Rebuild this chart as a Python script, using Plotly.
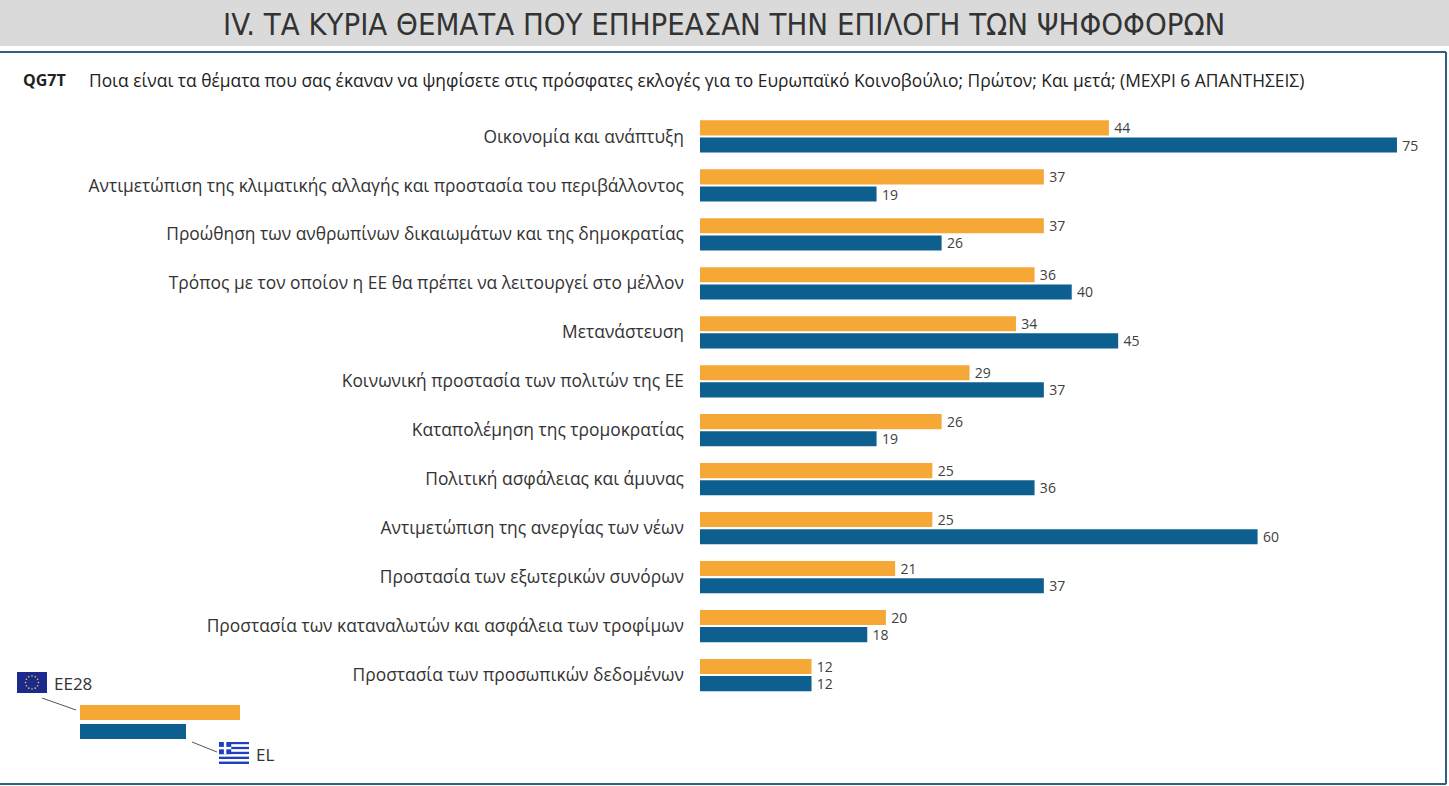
import math
import plotly.graph_objects as go

# data
topics = ['Οικονομία και ανάπτυξη',
          'Αντιμετώπιση της κλιματικής αλλαγής και προστασία του περιβάλλοντος',
          'Προώθηση των ανθρωπίνων δικαιωμάτων και της δημοκρατίας',
          'Τρόπος με τον οποίον η ΕΕ θα πρέπει να λειτουργεί στο μέλλον',
          'Μετανάστευση',
          'Κοινωνική προστασία των πολιτών της ΕΕ',
          'Καταπολέμηση της τρομοκρατίας',
          'Πολιτική ασφάλειας και άμυνας',
          'Αντιμετώπιση της ανεργίας των νέων',
          'Προστασία των εξωτερικών συνόρων',
          'Προστασία των καταναλωτών και ασφάλεια των τροφίμων',
          'Προστασία των προσωπικών δεδομένων']
ee28 = [44, 37, 37, 36, 34, 29, 26, 25, 25, 21, 20, 12]
el = [75, 19, 26, 40, 45, 37, 19, 36, 60, 37, 18, 12]

title_text = 'IV. ΤΑ ΚΥΡΙΑ ΘΕΜΑΤΑ ΠΟΥ ΕΠΗΡΕΑΣΑΝ ΤΗΝ ΕΠΙΛΟΓΗ ΤΩΝ ΨΗΦΟΦΟΡΩΝ'
question_code = 'QG7T'
question_text = ('Ποια είναι τα θέματα που σας έκαναν να ψηφίσετε στις πρόσφατες εκλογές '
                 'για το Ευρωπαϊκό Κοινοβούλιο; Πρώτον; Και μετά; (ΜΕΧΡΙ 6 ΑΠΑΝΤΗΣΕΙΣ)')

ORANGE = '#F5A835'
BLUE = '#0D5F8F'
FONT = 'Open Sans'
W, H = 1449, 786


def px(x):
    return x / W


def py(y):
    return 1 - y / H


fig = go.Figure()

# thin space in front of the value pushes it a little off the bar end
fig.add_trace(go.Bar(y=topics, x=ee28, orientation='h', name='EE28',
                     marker=dict(color=ORANGE, line=dict(width=0)),
                     texttemplate='\u2009%{x}', textposition='outside', cliponaxis=False,
                     constraintext='none', textfont=dict(size=14, color='#404040', family=FONT)))
fig.add_trace(go.Bar(y=topics, x=el, orientation='h', name='EL',
                     marker=dict(color=BLUE, line=dict(width=0)),
                     texttemplate='\u2009%{x}', textposition='outside', cliponaxis=False,
                     constraintext='none', textfont=dict(size=14, color='#404040', family=FONT)))

shapes = []
# title band and frame
shapes.append(dict(type='rect', xref='paper', yref='paper', x0=0, x1=1, y0=py(46), y1=1,
                   fillcolor='#DADADA', line=dict(width=0), layer='below'))
shapes.append(dict(type='line', xref='paper', yref='paper', x0=0, x1=px(1446), y0=py(52), y1=py(52),
                   line=dict(color='#2F607F', width=2)))
shapes.append(dict(type='line', xref='paper', yref='paper', x0=px(1446), x1=px(1446), y0=py(52), y1=py(784),
                   line=dict(color='#2F607F', width=2)))
shapes.append(dict(type='line', xref='paper', yref='paper', x0=0, x1=px(1446), y0=py(784), y1=py(784),
                   line=dict(color='#2F607F', width=2)))

# legend key
shapes.append(dict(type='rect', xref='paper', yref='paper', x0=px(80), x1=px(240), y0=py(720), y1=py(705),
                   fillcolor=ORANGE, line=dict(width=0)))
shapes.append(dict(type='rect', xref='paper', yref='paper', x0=px(80), x1=px(186), y0=py(739), y1=py(724),
                   fillcolor=BLUE, line=dict(width=0)))
shapes.append(dict(type='line', xref='paper', yref='paper', x0=px(42), x1=px(76), y0=py(698), y1=py(710),
                   line=dict(color='#555555', width=1)))
shapes.append(dict(type='line', xref='paper', yref='paper', x0=px(192), x1=px(217), y0=py(742), y1=py(752),
                   line=dict(color='#555555', width=1)))

# EU flag
shapes.append(dict(type='rect', xref='paper', yref='paper', x0=px(17), x1=px(47), y0=py(693), y1=py(672),
                   fillcolor='#1B2A8C', line=dict(width=0)))
for k in range(12):
    a = 2 * math.pi * k / 12
    cx, cy = 32 + 6.5 * math.cos(a), 682.5 + 6.5 * math.sin(a)
    shapes.append(dict(type='circle', xref='paper', yref='paper', x0=px(cx - 0.8), x1=px(cx + 0.8),
                       y0=py(cy + 0.8), y1=py(cy - 0.8), fillcolor='#F3D23A', line=dict(width=0)))

# Greek flag
gx0, gy0, gw, gh = 219, 742, 30, 22
stripe = gh / 9
for k in range(9):
    shapes.append(dict(type='rect', xref='paper', yref='paper', x0=px(gx0), x1=px(gx0 + gw),
                       y0=py(gy0 + (k + 1) * stripe), y1=py(gy0 + k * stripe),
                       fillcolor='#1E3FBF' if k % 2 == 0 else 'white', line=dict(width=0)))
shapes.append(dict(type='rect', xref='paper', yref='paper', x0=px(gx0), x1=px(gx0 + 5 * stripe),
                   y0=py(gy0 + 5 * stripe), y1=py(gy0), fillcolor='#1E3FBF', line=dict(width=0)))
shapes.append(dict(type='rect', xref='paper', yref='paper', x0=px(gx0), x1=px(gx0 + 5 * stripe),
                   y0=py(gy0 + 3 * stripe), y1=py(gy0 + 2 * stripe), fillcolor='white', line=dict(width=0)))
shapes.append(dict(type='rect', xref='paper', yref='paper', x0=px(gx0 + 2 * stripe), x1=px(gx0 + 3 * stripe),
                   y0=py(gy0 + 5 * stripe), y1=py(gy0), fillcolor='white', line=dict(width=0)))

annotations = [
    dict(text=title_text, xref='paper', yref='paper', x=px(724), y=py(24), xanchor='center', yanchor='middle',
         showarrow=False, font=dict(size=30.8, color='#333333', family='DejaVu Sans Condensed')),
    dict(text='<b>' + question_code + '</b>', xref='paper', yref='paper', x=px(21), y=py(80),
         xanchor='left', yanchor='middle', showarrow=False, font=dict(size=16, color='#222222', family=FONT)),
    dict(text=question_text, xref='paper', yref='paper', x=px(87), y=py(80),
         xanchor='left', yanchor='middle', showarrow=False, font=dict(size=17.4, color='#222222', family=FONT)),
    dict(text='EE28', xref='paper', yref='paper', x=px(52), y=py(683), xanchor='left', yanchor='middle',
         showarrow=False, font=dict(size=17, color='#333333', family=FONT)),
    dict(text='EL', xref='paper', yref='paper', x=px(254), y=py(754), xanchor='left', yanchor='middle',
         showarrow=False, font=dict(size=17, color='#333333', family=FONT)),
]

fig.update_layout(
    width=W, height=H,
    margin=dict(l=0, r=0, t=0, b=0),
    paper_bgcolor='white', plot_bgcolor='white',
    barmode='group', bargap=0.3, bargroupgap=0.12,
    showlegend=False,
    shapes=shapes, annotations=annotations,
    xaxis=dict(domain=[px(700), 1], range=[0, (W - 700) / 9.293],
               showgrid=False, zeroline=False, showticklabels=False, showline=False),
    yaxis=dict(domain=[py(699.5), py(112)], autorange='reversed', ticks='', showgrid=False,
               showline=False, ticklabelstandoff=15,
               tickfont=dict(size=17.4, color='#333333', family=FONT)),
)

# drop the browser's default page margin so the figure sits at the window origin
fig.write_html('out.html', config={'displayModeBar': False},
               post_script="document.body.style.margin='0';")
